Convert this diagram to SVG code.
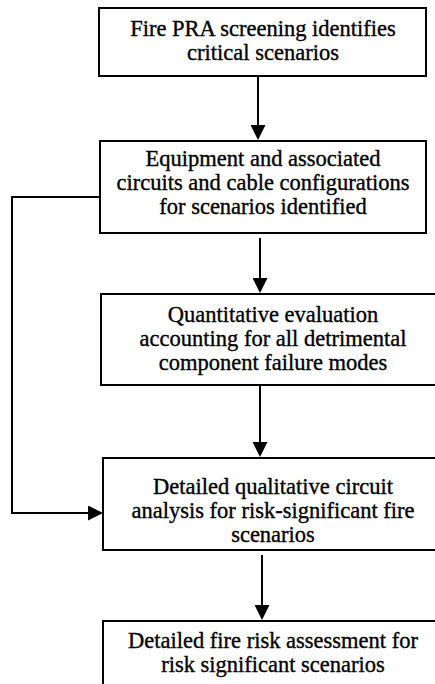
<svg xmlns="http://www.w3.org/2000/svg" width="435" height="684" viewBox="0 0 435 684">
<defs>
<style>
.box{fill:#fff;stroke:#000;stroke-width:2}
.t{font-family:"Liberation Serif","Times New Roman",serif;font-size:22.5px;fill:#000;stroke:#000;stroke-width:0.35;text-anchor:middle}
.c{fill:none;stroke:#000;stroke-width:2}
</style>
<marker id="ah" markerUnits="userSpaceOnUse" markerWidth="15" markerHeight="15" refX="10" refY="7.5" orient="auto">
<path d="M0,0 L15,7.5 L0,15 z" fill="#000"/>
</marker>
</defs>
<rect width="435" height="684" fill="#fff"/>
<g id="connectors">
<line class="c" x1="258" y1="76" x2="258" y2="135" marker-end="url(#ah)"/>
<line class="c" x1="260" y1="238" x2="260" y2="288" marker-end="url(#ah)"/>
<line class="c" x1="260" y1="382" x2="260" y2="452" marker-end="url(#ah)"/>
<line class="c" x1="262" y1="555" x2="262" y2="615" marker-end="url(#ah)"/>
<polyline class="c" points="100,197 12,197 12,513 98,513" marker-end="url(#ah)"/>
</g>
<g id="n1">
<rect class="box" x="99" y="8" width="327" height="68"/>
<text class="t" x="263" y="36">Fire PRA screening identifies</text>
<text class="t" x="263" y="60">critical scenarios</text>
</g>
<g id="n2">
<rect class="box" x="100" y="141" width="326" height="92"/>
<text class="t" x="263" y="166">Equipment and associated</text>
<text class="t" x="263" y="190">circuits and cable configurations</text>
<text class="t" x="263" y="214">for scenarios identified</text>
</g>
<g id="n3">
<rect class="box" x="101" y="294" width="345" height="91"/>
<text class="t" x="273" y="322">Quantitative evaluation</text>
<text class="t" x="273" y="346">accounting for all detrimental</text>
<text class="t" x="273" y="370">component failure modes</text>
</g>
<g id="n4">
<rect class="box" x="103" y="458" width="343" height="92"/>
<text class="t" x="273" y="494">Detailed qualitative circuit</text>
<text class="t" x="273" y="518">analysis for risk-significant fire</text>
<text class="t" x="273" y="542">scenarios</text>
</g>
<g id="n5">
<rect class="box" x="103" y="621" width="343" height="80"/>
<text class="t" x="273" y="648">Detailed fire risk assessment for</text>
<text class="t" x="273" y="672">risk significant scenarios</text>
</g>
</svg>
